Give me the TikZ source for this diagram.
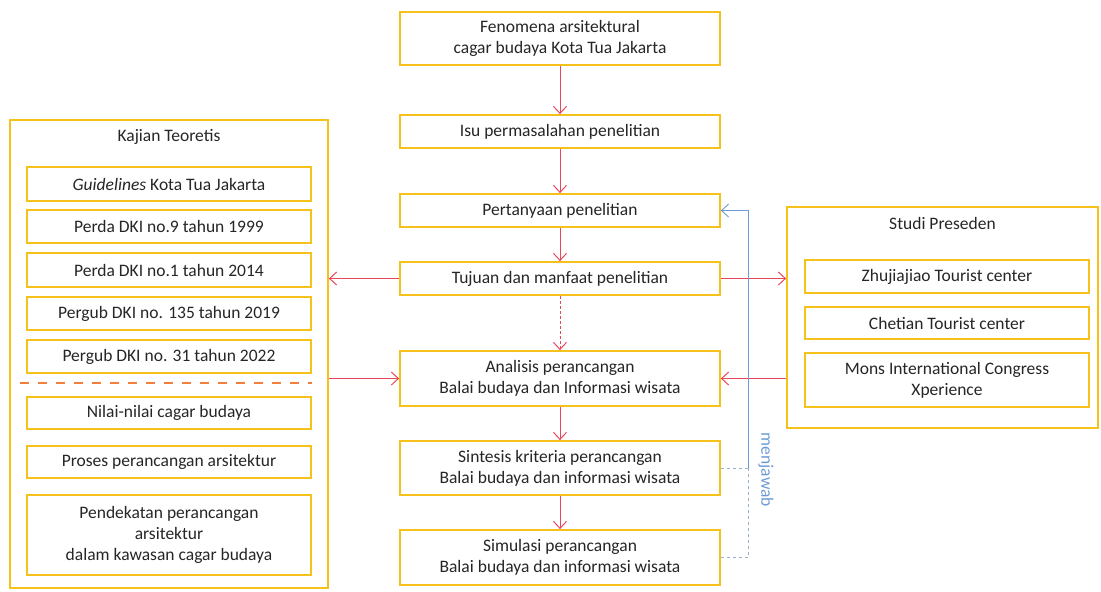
\documentclass[tikz,border=0pt]{standalone}
\usepackage{fontspec}
\setmainfont{Carlito}
\usetikzlibrary{arrows.meta}
\definecolor{gold}{HTML}{F5C21B}
\definecolor{redar}{HTML}{E8475A}
\definecolor{bluear}{HTML}{6E9BD6}
\definecolor{orgd}{HTML}{F0803C}
\definecolor{greyd}{HTML}{9AAFCB}
\tikzset{
  box/.style={draw=gold, line width=1.8pt, fill=white, align=center, inner sep=1pt, text=black!85, font=\fontsize{17.5}{21}\selectfont},
  outer/.style={draw=gold, line width=1.8pt, inner sep=0pt},
  ttl/.style={text=black!85, font=\fontsize{17.5}{21}\selectfont},
  rar/.style={draw=redar, line width=1pt, -{Straight Barb[length=7pt,width=13pt]}},
  bar/.style={draw=bluear, line width=0.9pt},
  gdash/.style={draw=greyd, line width=0.9pt, dash pattern=on 3pt off 3pt},
}
\begin{document}
\begin{tikzpicture}[x=1pt,y=-1pt]
\useasboundingbox (0,0) rectangle (1101,592);
% outer containers
\node[outer, minimum width=318pt, minimum height=468pt] (kaj) at (169,354) {};
\node[ttl] (kajt) at (169,137) {Kajian Teoretis};
\node[outer, minimum width=311pt, minimum height=221pt] (stu) at (942.5,317.5) {};
\node[ttl] (stut) at (942.5,223) {Studi Preseden};
% central column
\node[box, minimum width=320pt, minimum height=53pt] (fen) at (560,38.5) {Fenomena arsitektural\\cagar budaya Kota Tua Jakarta};
\node[box, minimum width=320pt, minimum height=33pt] (isu) at (560,131.5) {Isu permasalahan penelitian};
\node[box, minimum width=320pt, minimum height=33pt] (per) at (560,210.5) {Pertanyaan penelitian};
\node[box, minimum width=320pt, minimum height=33pt] (tuj) at (560,278.5) {Tujuan dan manfaat penelitian};
\node[box, minimum width=320pt, minimum height=55pt] (ana) at (560,378.5) {Analisis perancangan\\Balai budaya dan Informasi wisata};
\node[box, minimum width=320pt, minimum height=54pt] (sin) at (560,468) {Sintesis kriteria perancangan\\Balai budaya dan informasi wisata};
\node[box, minimum width=320pt, minimum height=55pt] (sim) at (560,557.5) {Simulasi perancangan\\Balai budaya dan informasi wisata};
% left inner
\node[box, minimum width=284pt, minimum height=34pt] (g) at (169,184) {\textit{Guidelines} Kota Tua Jakarta};
\node[box, minimum width=284pt, minimum height=33pt] (p9) at (169,226.5) {Perda DKI no.9 tahun 1999};
\node[box, minimum width=284pt, minimum height=34pt] (p1) at (169,270) {Perda DKI no.1 tahun 2014};
\node[box, minimum width=284pt, minimum height=33pt] (p135) at (169,313.5) {Pergub DKI no. 135 tahun 2019};
\node[box, minimum width=284pt, minimum height=33pt] (p31) at (169,356.5) {Pergub DKI no. 31 tahun 2022};
\coordinate (dl) at (20,383);
\coordinate (dr) at (312,383);
\draw[orgd, line width=2.6pt, dash pattern=on 9pt off 9pt] (dl) -- (dr);
\node[box, minimum width=284pt, minimum height=32pt] (nil) at (169,413) {Nilai-nilai cagar budaya};
\node[box, minimum width=284pt, minimum height=32pt] (pro) at (169,462) {Proses perancangan arsitektur};
\node[box, minimum width=284pt, minimum height=80pt] (pen) at (169,535) {Pendekatan perancangan\\arsitektur\\dalam kawasan cagar budaya};
% right inner
\node[box, minimum width=284pt, minimum height=33pt] (zhu) at (947,276.5) {Zhujiajiao Tourist center};
\node[box, minimum width=284pt, minimum height=32pt] (che) at (947,323) {Chetian Tourist center};
\node[box, minimum width=284pt, minimum height=54pt] (mon) at (947,380) {Mons International Congress\\Xperience};
% red arrows
\draw[rar] (fen.south) -- (isu.north);
\draw[rar] (isu.south) -- (per.north);
\draw[rar] (per.south) -- (tuj.north);
\draw[rar, dash pattern=on 3pt off 2pt] (tuj.south) -- (ana.north);
\draw[rar] (ana.south) -- (sin.north);
\draw[rar] (sin.south) -- (sim.north);
\draw[rar] (tuj.west) -- (tuj.west -| kaj.east);
\draw[rar] (tuj.east) -- (tuj.east -| stu.west);
\draw[rar] (kaj.east |- ana.west) -- (ana.west);
\draw[rar] (stu.west |- ana.east) -- (ana.east);
% blue feedback
\coordinate (bt) at (748,210.5);
\coordinate (bm) at (748,468);
\coordinate (bb) at (748,557.5);
\draw[gdash] (sin.east) -- (bm);
\draw[gdash] (sim.east) -- (bb) -- (bm);
\draw[bar, -{Straight Barb[length=7pt,width=13pt]}] (bm) -- (bt) -- (per.east);
\node[text=bluear, rotate=-90, font=\fontsize{17.5}{20}\selectfont] (mj) at (766,470) {menjawab};
\end{tikzpicture}
\end{document}
